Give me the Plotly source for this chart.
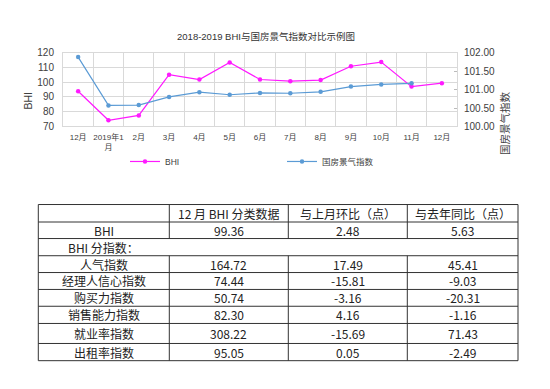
import plotly.graph_objects as go

# ---------------- data ----------------
months = ["12月", "2019年1<br>月", "2月", "3月", "4月", "5月", "6月",
          "7月", "8月", "9月", "10月", "11月", "12月"]
bhi = [93.9, 74.2, 77.5, 105.1, 101.8, 113.4, 101.8, 100.7, 101.4, 110.8, 113.6, 97.0, 99.36]
guofang = [101.88, 100.57, 100.58, 100.80, 100.93, 100.86, 100.91, 100.90, 100.94,
           101.08, 101.14, 101.17, None]
left_ticks = [70, 80, 90, 100, 110, 120]
right_ticks = [100.0, 100.5, 101.0, 101.5, 102.0]

table_header = ["", "12 月 BHI 分类数据", "与上月环比（点）", "与去年同比（点）"]
row_names = ["BHI", "BHI 分指数：", "人气指数", "经理人信心指数", "购买力指数",
             "销售能力指数", "就业率指数", "出租率指数"]
dec_values = [99.36, None, 164.72, 74.44, 50.74, 82.30, 308.22, 95.05]
mom_change = [2.48, None, 17.49, -15.81, -3.16, 4.16, -15.69, 0.05]
yoy_change = [5.63, None, 45.41, -9.03, -20.31, -1.16, 71.43, -2.49]

# ---------------- layout constants ----------------
W, H = 550, 389
plot_l, plot_r, plot_t, plot_b = 63, 457, 48, 124
col_edges = [38.3, 169.3, 288.3, 407.3, 518]
row_edges = [204.3, 222.3, 239.3, 257, 274.3, 291.7, 309, 326.7, 347.3, 365]

def px(x):
    return x / W

def py(y):
    return 1 - y / H

BHI_COLOR = "#FF1AFF"
GF_COLOR = "#5B9BD5"
GRID = "#D9D9D9"
TXT = "#404040"
FONT = "Liberation Sans, Arial, Noto Sans CJK SC"
CJK = "Noto Sans CJK SC"

xs = list(range(len(months)))

fig = go.Figure()
fig.add_trace(go.Scatter(
    x=xs, y=bhi, name="BHI", mode="lines+markers",
    line=dict(color=BHI_COLOR, width=1.2), marker=dict(size=4.5, color=BHI_COLOR),
    legend="legend"))
fig.add_trace(go.Scatter(
    x=xs, y=guofang, name="国房景气指数", mode="lines+markers", yaxis="y2",
    line=dict(color=GF_COLOR, width=1.2), marker=dict(size=4.5, color=GF_COLOR),
    legend="legend2"))

fig.update_layout(
    width=W, height=H,
    margin=dict(l=0, r=0, t=0, b=0),
    paper_bgcolor="white", plot_bgcolor="white",
    font=dict(family=FONT, color=TXT),
    title=dict(text="2018-2019 BHI与国房景气指数对比示例图", x=px(266), y=py(32),
               xanchor="center", yanchor="middle", xref="paper", yref="paper",
               font=dict(size=9.5, color="#333333", family=FONT)),
    xaxis=dict(domain=[px(plot_l), px(plot_r)], range=[-0.5, len(months) - 0.5],
               tickmode="array", tickvals=xs, ticktext=months,
               showgrid=False, zeroline=False,
               showline=True, mirror=True, linecolor=GRID, linewidth=1,
               ticks="outside", ticklen=3, tickcolor="rgba(0,0,0,0)",
               tickfont=dict(size=8, color=TXT),
               minor=dict(tickmode="array", tickvals=[i + 0.5 for i in xs[:-1]],
                          showgrid=True, gridcolor=GRID, gridwidth=1, ticks="")),
    yaxis=dict(domain=[py(plot_b), py(plot_t)], range=[70, 120],
               tickmode="array", tickvals=left_ticks,
               showgrid=True, gridcolor=GRID, zeroline=False,
               showline=True, mirror=True, linecolor=GRID,
               ticks="outside", ticklen=6, tickcolor="rgba(0,0,0,0)",
               tickfont=dict(size=10, color=TXT)),
    yaxis2=dict(overlaying="y", side="right", range=[100, 102],
                tickmode="array", tickvals=right_ticks, tickformat=".2f",
                showgrid=False, zeroline=False,
                ticks="inside", ticklen=3, tickcolor="#BBBBBB",
                ticklabelstandoff=6,
                tickfont=dict(size=10, color=TXT)),
    legend=dict(orientation="h", x=px(125), y=py(160), xanchor="left", yanchor="middle",
                font=dict(size=8.5, color=TXT), itemwidth=30, bgcolor="rgba(0,0,0,0)"),
    legend2=dict(orientation="h", x=px(282), y=py(160), xanchor="left", yanchor="middle",
                 font=dict(size=8.5, color=TXT), itemwidth=30, bgcolor="rgba(0,0,0,0)"),
    showlegend=True,
)

annotations = [
    dict(text="BHI", x=px(20), y=py((plot_t + plot_b) / 2), xref="paper", yref="paper",
         showarrow=False, textangle=-90, font=dict(size=10.5, color=TXT, family=FONT)),
    dict(text="国房景气指数", x=px(514), y=py((plot_t + plot_b) / 2), xref="paper", yref="paper",
         showarrow=False, textangle=-90, font=dict(size=10.5, color=TXT, family=CJK)),
]

# ---------------- table ----------------
shapes = []
LINE = dict(color="#333333", width=1)
x0, x1 = col_edges[0], col_edges[-1]

def hline(y):
    shapes.append(dict(type="line", xref="paper", yref="paper",
                       x0=px(x0), x1=px(x1), y0=py(y), y1=py(y), line=LINE))

def vline(x, ya, yb):
    shapes.append(dict(type="line", xref="paper", yref="paper",
                       x0=px(x), x1=px(x), y0=py(ya), y1=py(yb), line=LINE))

for y in row_edges:
    hline(y)

def fmt(v):
    return "" if v is None else f"{v:.2f}"

rows = [table_header] + [
    [n, fmt(a), fmt(b), fmt(c)] for n, a, b, c in zip(row_names, dec_values, mom_change, yoy_change)
]
merged = [False] + [v is None for v in dec_values]

# outer verticals
vline(col_edges[0], row_edges[0], row_edges[-1])
vline(col_edges[-1], row_edges[0], row_edges[-1])
# inner verticals: continuous segments skipping merged rows
segments = []
start = None
for r in range(len(rows)):
    if not merged[r] and start is None:
        start = r
    if merged[r] and start is not None:
        segments.append((start, r))
        start = None
if start is not None:
    segments.append((start, len(rows)))
for xe in col_edges[1:-1]:
    for a, b in segments:
        vline(xe, row_edges[a], row_edges[b])

for r, cells in enumerate(rows):
    ya, yb = row_edges[r], row_edges[r + 1]
    for c, t in enumerate(cells):
        if not t:
            continue
        xc = (col_edges[c] + col_edges[c + 1]) / 2
        annotations.append(dict(text=t, x=px(xc), y=py((ya + yb) / 2), xref="paper", yref="paper",
                                showarrow=False, xanchor="center", yanchor="middle",
                                font=dict(size=12, color="#222222", family=CJK)))

fig.update_layout(shapes=shapes, annotations=annotations)
fig.write_html("out.html", config={"displayModeBar": False},
               post_script="document.body.style.margin='0';")
